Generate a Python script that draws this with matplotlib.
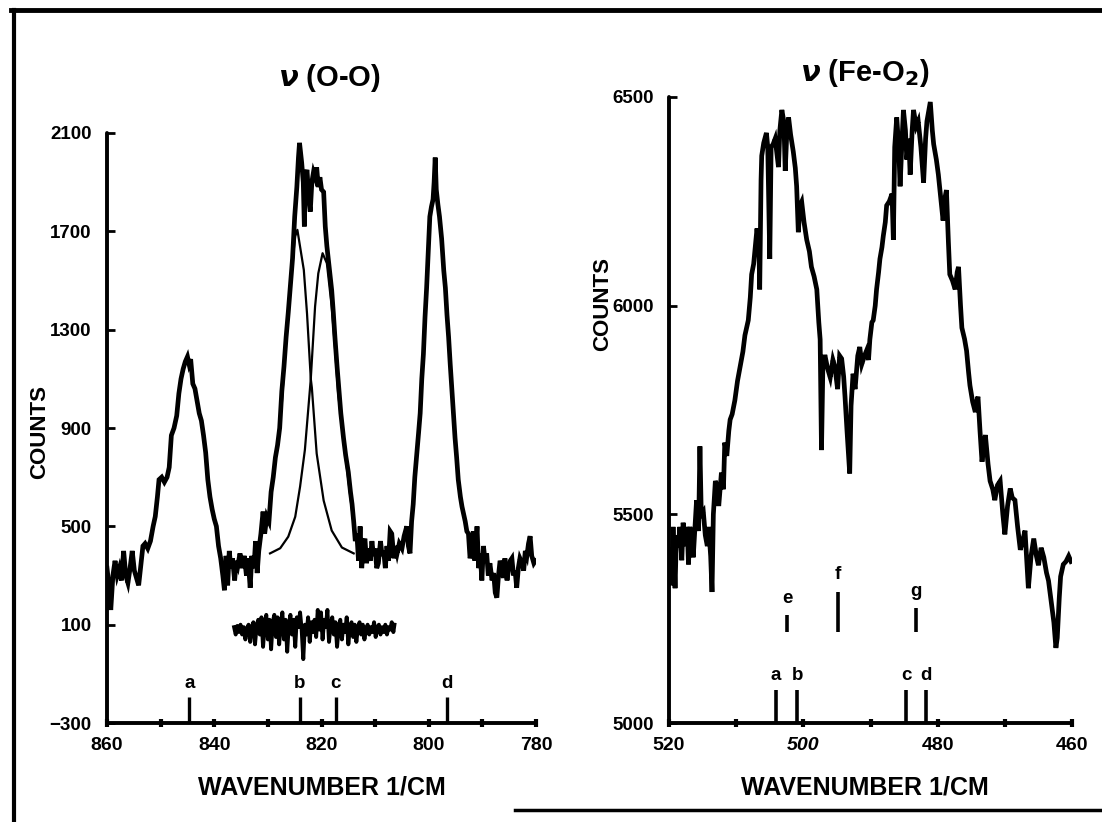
import numpy as np
import matplotlib
matplotlib.use('Agg')
import matplotlib.pyplot as plt
from matplotlib.lines import Line2D

plt.rcParams['font.family'] = ['Liberation Sans', 'DejaVu Sans']
plt.rcParams['font.weight'] = 'bold'

# %% DATA - nu(O-O) panel
oo_wn = [860.0, 859.6, 859.3, 858.9, 858.5, 858.1, 857.7, 857.3, 856.9, 856.5, 856.1, 855.7, 855.3, 854.9,
         854.5, 854.1, 853.7, 853.3, 852.9, 852.4, 851.9, 851.4, 851.0, 850.6, 850.3, 849.8, 849.3, 848.8,
         848.4, 848.0, 847.5, 847.0, 846.6, 846.2, 845.8, 845.4, 845.0, 844.7, 844.4, 844.0, 843.6, 843.2,
         842.8, 842.4, 842.0, 841.6, 841.2, 840.8, 840.4, 840.0, 839.6, 839.2, 838.8, 838.4, 838.1, 837.8,
         837.5, 837.2, 836.9, 836.6, 836.2, 835.9, 835.6, 835.2, 834.8, 834.4, 834.0, 833.7, 833.3, 833.0,
         832.6, 832.3, 832.0, 831.7, 831.3, 830.9, 830.6, 830.2, 829.8, 829.4, 829.0, 828.6, 828.2, 827.8,
         827.4, 827.0, 826.6, 826.2, 825.8, 825.4, 825.0, 824.6, 824.3, 824.1, 823.9, 823.7, 823.4, 823.2,
         823.0, 822.7, 822.4, 822.1, 821.8, 821.5, 821.2, 820.9, 820.6, 820.3, 820.0, 819.6, 819.3, 819.0,
         818.6, 818.1, 817.8, 817.5, 817.1, 816.8, 816.4, 815.9, 815.5, 815.0, 814.6, 814.3, 814.0, 813.7,
         813.4, 813.1, 812.8, 812.5, 812.2, 811.9, 811.6, 811.3, 810.9, 810.6, 810.3, 810.0, 809.7, 809.4,
         809.0, 808.7, 808.4, 808.1, 807.8, 807.5, 807.2, 806.9, 806.5, 806.2, 805.9, 805.5, 805.0, 804.6,
         804.1, 803.8, 803.5, 803.2, 802.9, 802.6, 802.2, 801.9, 801.6, 801.3, 801.0, 800.7, 800.4, 800.1,
         799.8, 799.5, 799.2, 799.0, 798.8, 798.6, 798.3, 798.0, 797.6, 797.2, 796.9, 796.6, 796.3, 796.0,
         795.7, 795.4, 795.1, 794.8, 794.5, 794.1, 793.8, 793.5, 793.2, 792.9, 792.6, 792.3, 792.0, 791.7,
         791.4, 791.0, 790.7, 790.4, 790.1, 789.8, 789.5, 789.2, 788.9, 788.6, 788.2, 787.9, 787.6, 787.3,
         787.0, 786.7, 786.4, 786.1, 785.8, 785.4, 785.1, 784.8, 784.5, 784.2, 783.9, 783.6, 783.3, 783.0,
         782.6, 782.3, 782.0, 781.7, 781.4, 781.1, 780.8, 780.4, 780.1]
oo_counts = [330, 250, 160, 300, 360, 300, 330, 280, 400, 300, 270, 330, 400, 320,
             290, 260, 340, 420, 430, 410, 440, 500, 540, 620, 690, 700, 680, 700,
             740, 870, 900, 950, 1040, 1100, 1140, 1170, 1190, 1160, 1180, 1080, 1060, 1010,
             960, 930, 870, 800, 690, 620, 570, 530, 500, 420, 370, 300, 240, 380,
             260, 400, 330, 370, 280, 360, 340, 390, 330, 380, 300, 370, 250, 380,
             330, 440, 310, 400, 470, 560, 470, 540, 520, 640, 700, 780, 830, 900,
             1050, 1150, 1270, 1370, 1480, 1590, 1760, 1880, 2000, 2060, 2020, 1980, 1900, 1720,
             1930, 1950, 1840, 1780, 1900, 1940, 1920, 1960, 1880, 1920, 1870, 1860, 1720, 1640,
             1560, 1460, 1370, 1270, 1150, 1070, 960, 860, 790, 720, 640, 590, 520, 440,
             470, 360, 500, 330, 430, 450, 350, 410, 360, 440, 380, 410, 330, 350,
             440, 380, 400, 330, 420, 360, 480, 470, 370, 420, 390, 430, 410, 460,
             500, 420, 390, 520, 590, 700, 800, 880, 960, 1100, 1200, 1350, 1470, 1620,
             1760, 1800, 1830, 1900, 2000, 1870, 1810, 1760, 1670, 1540, 1470, 1360, 1270, 1160,
             1060, 960, 860, 780, 690, 620, 580, 550, 520, 480, 470, 370, 400, 480,
             360, 500, 330, 390, 280, 420, 360, 390, 300, 350, 280, 310, 230, 210,
             300, 360, 340, 290, 370, 280, 330, 360, 370, 300, 320, 250, 330, 370,
             350, 320, 400, 380, 430, 460, 380, 350, 360]

# fitted components (thin lines)
fit_a_wn = [827.4, 826.5, 825.5, 824.9, 824.5, 823.3, 822.7, 822.0, 821.8, 820.9, 819.6, 818.1, 816.2, 814.0]
fit_a_counts = [1000, 1300, 1560, 1680, 1706, 1543, 1365, 1100, 1064, 796, 605, 483, 414, 390]
fit_b_wn = [829.6, 827.7, 826.2, 824.9, 824.0, 823.1, 822.0, 821.2, 820.6, 819.8, 819.0, 818.1, 817.5,
            816.9, 815.9, 815.0, 814.1, 813.4]
fit_b_counts = [390, 411, 458, 539, 661, 811, 1100, 1394, 1529, 1611, 1570, 1394, 1231,
                1041, 851, 689, 526, 431]

# residual trace
res_wn = [836.3, 836.0, 835.7, 835.4, 835.1, 834.8, 834.5, 834.2, 833.9, 833.6, 833.3, 833.0, 832.7, 832.4,
          832.1, 831.8, 831.5, 831.2, 830.9, 830.6, 830.3, 830.0, 829.7, 829.4, 829.1, 828.8, 828.5, 828.2,
          827.9, 827.6, 827.3, 827.0, 826.7, 826.4, 826.1, 825.8, 825.5, 825.2, 824.9, 824.6, 824.3, 824.0,
          823.7, 823.4, 823.1, 822.8, 822.5, 822.2, 821.9, 821.6, 821.3, 821.0, 820.7, 820.4, 820.1, 819.8,
          819.5, 819.2, 818.9, 818.6, 818.3, 818.0, 817.7, 817.4, 817.1, 816.8, 816.5, 816.2, 815.9, 815.6,
          815.3, 815.0, 814.7, 814.4, 814.1, 813.8, 813.5, 813.2, 812.9, 812.6, 812.3, 812.0, 811.7, 811.4,
          811.1, 810.8, 810.5, 810.2, 809.9, 809.6, 809.3, 809.0, 808.7, 808.4, 808.1, 807.8, 807.5, 807.2,
          806.9, 806.6, 806.4]
res_counts = [90, 60, 95, 70, 100, 60, 90, 40, 85, 100, 30, 90, 110, 20,
              95, 120, 60, 130, 10, 100, 140, 40, 120, 0, 110, 140, 50, 130,
              20, 100, 150, 40, 120, -10, 100, 140, 60, 120, 10, 130, 90, 150,
              80, -40, 100, 60, 130, 30, 110, 70, 120, 50, 160, 80, 150, 40,
              120, 90, 160, 30, 100, 130, 60, 110, 10, 90, 120, 40, 100, 70,
              130, 20, 90, 110, 50, 100, 30, 90, 110, 60, 100, 40, 80, 100,
              60, 90, 70, 110, 50, 90, 100, 60, 90, 70, 100, 60, 90, 80,
              110, 70, 100]

oo_sticks = ['a', 'b', 'c', 'd']
oo_stick_wn = [844.65, 824.1, 817.35, 796.6]
oo_stick_top = -193
oo_yticks = [-300, 100, 500, 900, 1300, 1700, 2100]
oo_xticks = [860, 840, 820, 800, 780]

# %% DATA - nu(Fe-O2) panel
fe_wn = [519.85, 519.6, 519.4, 519.1, 518.9, 518.6, 518.4, 518.1, 517.9, 517.6, 517.3, 517.1, 516.9, 516.6,
         516.4, 516.1, 515.9, 515.6, 515.4, 515.2, 514.9, 514.6, 514.3, 514.1, 513.8, 513.6, 513.4, 513.1,
         512.9, 512.6, 512.4, 512.2, 511.9, 511.7, 511.4, 511.1, 510.9, 510.6, 510.2, 509.8, 509.4, 509.0,
         508.7, 508.4, 508.2, 507.9, 507.7, 507.4, 507.1, 506.9, 506.6, 506.5, 506.3, 506.2, 505.9, 505.5,
         505.3, 505.0, 504.8, 504.5, 504.2, 503.9, 503.7, 503.5, 503.2, 502.9, 502.7, 502.5, 502.2, 501.9,
         501.5, 501.2, 501.0, 500.75, 500.5, 500.25, 499.9, 499.5, 499.1, 498.8, 498.4, 498.0, 497.7, 497.5,
         497.3, 497.1, 496.8, 496.4, 496.0, 495.6, 495.3, 494.9, 494.6, 494.3, 494.0, 493.8, 493.5, 493.1,
         492.9, 492.6, 492.3, 491.9, 491.6, 491.3, 490.9, 490.6, 490.3, 490.1, 489.8, 489.6, 489.3, 489.1,
         488.8, 488.6, 488.3, 488.1, 487.8, 487.6, 487.2, 486.8, 486.6, 486.4, 486.1, 485.8, 485.6, 485.3,
         485.1, 484.8, 484.6, 484.3, 484.1, 483.8, 483.6, 483.2, 482.9, 482.5, 482.1, 481.8, 481.6, 481.3,
         481.1, 480.8, 480.6, 480.2, 479.9, 479.5, 479.2, 478.9, 478.7, 478.4, 478.2, 477.8, 477.4, 477.1,
         476.9, 476.6, 476.4, 476.0, 475.7, 475.4, 475.2, 474.8, 474.4, 474.2, 474.0, 473.7, 473.4, 473.1,
         472.9, 472.5, 472.2, 471.8, 471.5, 471.1, 470.7, 470.3, 470.0, 469.6, 469.2, 468.9, 468.5, 468.1,
         467.7, 467.3, 467.0, 466.7, 466.5, 466.1, 465.7, 465.3, 465.0, 464.6, 464.2, 463.8, 463.5, 463.1,
         462.7, 462.4, 462.2, 461.9, 461.7, 461.3, 460.9, 460.5, 460.15]
fe_counts = [5415, 5330, 5470, 5323, 5450, 5420, 5470, 5390, 5480, 5424, 5470, 5380, 5470, 5440,
             5397, 5480, 5534, 5460, 5663, 5500, 5507, 5450, 5424, 5470, 5400, 5314, 5500, 5580,
             5571, 5520, 5560, 5600, 5560, 5672, 5640, 5700, 5727, 5740, 5773, 5820, 5855, 5890,
             5929, 5950, 5965, 6020, 6075, 6100, 6150, 6185, 6130, 6039, 6300, 6359, 6390, 6414,
             6380, 6112, 6380, 6387, 6400, 6360, 6332, 6420, 6469, 6440, 6323, 6400, 6451, 6410,
             6369, 6330, 6286, 6176, 6240, 6249, 6200, 6158, 6130, 6093, 6070, 6039, 5960, 5919,
             5654, 5850, 5882, 5850, 5828, 5870, 5853, 5800, 5880, 5873, 5830, 5782, 5700, 5598,
             5760, 5837, 5800, 5880, 5901, 5860, 5880, 5892, 5870, 5919, 5960, 5965, 6000, 6039,
             6080, 6112, 6140, 6167, 6200, 6240, 6250, 6268, 6158, 6380, 6451, 6380, 6286, 6400,
             6469, 6420, 6350, 6400, 6314, 6420, 6469, 6430, 6442, 6380, 6295, 6400, 6442, 6470,
             6488, 6420, 6387, 6350, 6314, 6250, 6204, 6260, 6277, 6150, 6075, 6060, 6039, 6080,
             6093, 6000, 5947, 5920, 5892, 5840, 5809, 5770, 5745, 5770, 5782, 5700, 5626, 5670,
             5690, 5620, 5580, 5560, 5534, 5570, 5580, 5500, 5452, 5520, 5562, 5540, 5534, 5470,
             5415, 5440, 5461, 5380, 5323, 5400, 5442, 5400, 5378, 5420, 5397, 5360, 5341, 5290,
             5241, 5180, 5204, 5300, 5351, 5380, 5387, 5400, 5387]

fe_low_sticks = ['a', 'b', 'c', 'd']
fe_low_wn = [504.1, 500.9, 484.7, 481.7]
fe_low_top = 5079
fe_high_sticks = ['e', 'f', 'g']
fe_high_wn = [502.4, 494.9, 483.3]
fe_high_bottom = 5219
fe_high_top = [5259, 5315, 5276]
fe_yticks = [5000, 5500, 6000, 6500]
fe_xticks = [520, 500, 480, 460]

# %% FIGURE
fig = plt.figure(figsize=(11.02, 8.22), dpi=100)
ax1 = fig.add_axes([0.0971, 0.1204, 0.3893, 0.7178])
ax2 = fig.add_axes([0.6071, 0.1204, 0.3657, 0.7616])


def style(ax):
    for s in ['top', 'right']:
        ax.spines[s].set_visible(False)
    for s in ['left', 'bottom']:
        ax.spines[s].set_linewidth(2.8)
        ax.spines[s].set_capstyle('round')
    ax.tick_params(axis='x', which='both', direction='inout', length=6, width=3, pad=7,
                   labelsize=14)
    ax.tick_params(axis='y', which='both', direction='in', length=6, width=2, pad=11,
                   labelsize=13.5)
    for lab in ax.get_xticklabels() + ax.get_yticklabels():
        lab.set_fontweight('bold')


ax1.plot(oo_wn, oo_counts, color='black', lw=3.4, solid_joinstyle='miter')
ax1.plot(fit_a_wn, fit_a_counts, color='black', lw=1.6)
ax1.plot(fit_b_wn, fit_b_counts, color='black', lw=1.6)
ax1.plot(res_wn, res_counts, color='black', lw=2.8)
ax1.vlines(oo_stick_wn, -300, oo_stick_top, color='black', lw=2.4)
for lab, w in zip(oo_sticks, oo_stick_wn):
    ax1.text(w, -140, lab, ha='center', va='center', fontsize=13.5, fontweight='bold')
ax1.set_xlim(860, 780)
ax1.set_ylim(-300, 2100)
ax1.set_xticks(oo_xticks)
ax1.set_xticks(np.arange(780, 861, 10), minor=True)
ax1.set_yticks(oo_yticks)
style(ax1)

ax2.plot(fe_wn, fe_counts, color='black', lw=3.4, solid_joinstyle='miter')
ax2.vlines(fe_low_wn, 5000, fe_low_top, color='black', lw=2.6)
for lab, w in zip(fe_low_sticks, fe_low_wn):
    ax2.text(w, 5113, lab, ha='center', va='center', fontsize=13.5, fontweight='bold')
ax2.vlines(fe_high_wn, fe_high_bottom, fe_high_top, color='black', lw=2.6)
for lab, w, t in zip(fe_high_sticks, fe_high_wn, fe_high_top):
    ax2.text(w, t + 40, lab, ha='center', va='center', fontsize=13.5, fontweight='bold')
ax2.set_xlim(520, 460)
ax2.set_ylim(5000, 6500)
ax2.set_xticks(fe_xticks)
ax2.set_xticks(np.arange(460, 521, 10), minor=True)
ax2.set_yticks(fe_yticks)
style(ax2)
ax2.get_xticklabels()[1].set_fontstyle('italic')

# axis titles and labels
fig.text(0.2985, 0.905, r'$\nu$ (O-O)', ha='center', va='center', fontsize=21, fontweight='bold')
fig.text(0.785, 0.911, r'$\nu$ (Fe-O$_\mathbf{2}$)', ha='center', va='center', fontsize=21,
         fontweight='bold')
fig.text(0.2922, 0.0414, 'WAVENUMBER 1/CM', ha='center', va='center', fontsize=18, fontweight='bold')
fig.text(0.785, 0.0414, 'WAVENUMBER 1/CM', ha='center', va='center', fontsize=18, fontweight='bold')
fig.text(0.036, 0.475, 'COUNTS', ha='center', va='center', rotation=90, fontsize=16, fontweight='bold')
fig.text(0.547, 0.63, 'COUNTS', ha='center', va='center', rotation=90, fontsize=16, fontweight='bold')

# scanned frame
fig.add_artist(Line2D([0.010, 1.0], [0.988, 0.988], color='black', lw=3.5))
fig.add_artist(Line2D([0.0127, 0.0127], [0.0, 0.988], color='black', lw=3.0))
fig.add_artist(Line2D([0.467, 1.0], [0.0146, 0.0146], color='black', lw=2.5))

fig.savefig('out.png', dpi=100)
